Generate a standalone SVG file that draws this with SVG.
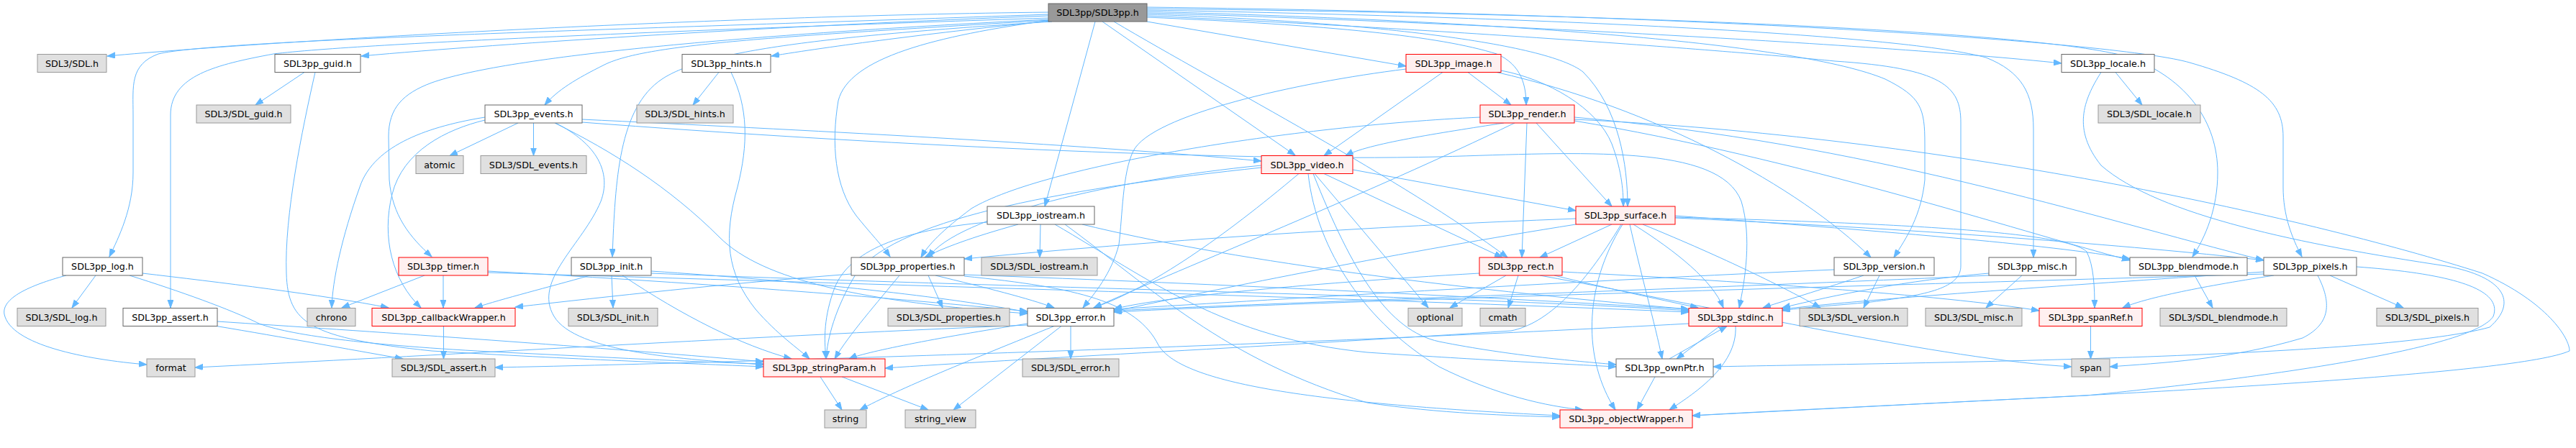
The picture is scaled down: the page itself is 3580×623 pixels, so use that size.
<svg xmlns="http://www.w3.org/2000/svg" width="3580" height="623" viewBox="0 0 3580 623">
<style>
.e{fill:none;stroke:#63b8ff;stroke-width:1;marker-end:url(#a)}
rect{stroke-width:1}
.w rect{fill:#ffffff;stroke:#666666}
.g rect{fill:#e0e0e0;stroke:#999999}
.r rect{fill:#fff0f0;stroke:#ff0000}
.t rect{fill:#999999;stroke:#666666}
text{font-family:"DejaVu Sans","Liberation Sans",sans-serif;font-size:12.7px;fill:#000;text-anchor:middle}
</style>
<defs>
<marker id="a" markerUnits="userSpaceOnUse" markerWidth="12" markerHeight="9" refX="11" refY="4" orient="auto">
<path d="M0,0 L11,4 L0,8 z" fill="#63b8ff" stroke="#63b8ff"/>
</marker>
</defs>
<rect width="3580" height="623" fill="#ffffff"/>
<g id="edges">
<path class="e" d="M1457,17 C1000,22 400,55 149,78"/>
<path class="e" d="M1457,22 C1100,35 700,60 502,78"/>
<path class="e" d="M1457,20 C900,40 300,55 220,75 C180,90 185,120 185,160 L185,240 C185,290 165,330 152,357"/>
<path class="e" d="M1457,25 C1000,40 500,60 380,75 C300,90 237,105 237,160 L237,428"/>
<path class="e" d="M1460,29 C1300,45 1150,65 1072,78"/>
<path class="e" d="M1460,28 C1100,50 900,60 840,90 C800,110 775,125 757,146"/>
<path class="e" d="M1462,30 C1150,50 980,70 920,110 C860,150 855,250 851,357"/>
<path class="e" d="M1457,27 C1000,50 700,80 600,115 C560,130 540,150 540,190 L541,250 C545,300 570,330 600,357"/>
<path class="e" d="M1460,28 C1300,50 1180,80 1165,140 C1155,200 1160,260 1190,300 C1210,325 1225,340 1237,357"/>
<path class="e" d="M1522,30 L1452,287"/>
<path class="e" d="M1532,30 L1800,216"/>
<path class="e" d="M1548,30 C1700,120 1950,250 2095,358"/>
<path class="e" d="M1594,30 L1954,92"/>
<path class="e" d="M1594,24 C1850,35 2000,50 2080,75 C2115,90 2121,120 2121,146"/>
<path class="e" d="M1594,20 C1900,30 2150,60 2200,100 C2250,150 2262,230 2262,287"/>
<path class="e" d="M1594,18 C2000,30 2600,60 2865,88"/>
<path class="e" d="M1594,16 C2100,30 2500,60 2620,110 C2670,135 2675,150 2675,200 L2675,250 C2670,300 2650,330 2632,358"/>
<path class="e" d="M1594,14 C2200,25 2650,50 2760,80 C2810,100 2826,130 2826,180 L2826,358"/>
<path class="e" d="M1594,12 C2300,20 2850,45 2960,80 C3040,110 3082,170 3082,240 C3082,290 3065,330 3047,357"/>
<path class="e" d="M1594,10 C2400,20 2950,60 3043,87 C3140,115 3173,140 3173,190 L3173,260 C3173,300 3185,330 3199,357"/>
<path class="e" d="M1594,22 C2000,40 2400,70 2550,85 C2700,95 2725,120 2725,170 L2725,370 C2725,400 2680,410 2600,420 C2550,425 2500,428 2477,432"/>
<path class="e" d="M423,100.5 L355,146"/>
<path class="e" d="M438,100.5 C420,180 395,300 398,380 C400,450 430,470 600,488 C800,500 950,505 1061,510"/>
<path class="e" d="M999,100.5 L963,146"/>
<path class="e" d="M1016,100.5 C1040,150 1040,200 1025,260 C1005,330 1010,380 1050,430 C1080,465 1110,485 1125,499"/>
<path class="e" d="M133,383 L100,428"/>
<path class="e" d="M92,383 C40,397 2,415 6,437 C15,480 120,500 204,507"/>
<path class="e" d="M198,380 C300,392 450,410 540,428"/>
<path class="e" d="M180,383 C250,405 320,430 360,450 C400,465 500,480 700,490 C850,497 950,503 1061,506"/>
<path class="e" d="M298,453 C400,470 480,485 560,499"/>
<path class="e" d="M302,447 C500,460 800,480 1061,503"/>
<path class="e" d="M720,171 L625,216.5"/>
<path class="e" d="M741.5,171 L741.5,216.5"/>
<path class="e" d="M674,163 C600,175 520,200 500,260 C475,330 462,390 461,428"/>
<path class="e" d="M674,167 C620,180 560,210 545,270 C530,330 545,390 585,428"/>
<path class="e" d="M772,171 C830,200 850,240 835,280 C810,340 740,390 770,440 C800,490 950,500 1061,507"/>
<path class="e" d="M771,171 C850,210 930,260 1000,330 C1060,390 1200,420 1428,436"/>
<path class="e" d="M809,166 C1100,180 1500,200 1753,224"/>
<path class="e" d="M809,170 C1200,200 1700,225 2000,218 C2200,212 2390,200 2420,280 C2435,330 2425,390 2417,428"/>
<path class="e" d="M850,383 L852,428"/>
<path class="e" d="M820,383 C760,400 700,415 660,428"/>
<path class="e" d="M865,383 C950,440 1030,480 1100,499"/>
<path class="e" d="M905,377 C1100,390 1300,410 1428,434"/>
<path class="e" d="M905,380 C1400,400 2000,410 2347,432"/>
<path class="e" d="M590,383 L475,428"/>
<path class="e" d="M616,383 L616,428"/>
<path class="e" d="M678,377 C1000,395 1250,415 1428,433"/>
<path class="e" d="M678,379 C1200,395 1900,415 2347,434"/>
<path class="e" d="M616.5,453.5 L616.5,499"/>
<path class="e" d="M1290,383 L1310,428"/>
<path class="e" d="M1300,383 C1370,400 1430,415 1465,428"/>
<path class="e" d="M1250,383 C1220,420 1180,465 1160,499"/>
<path class="e" d="M1183,381 C1000,395 850,412 716,427"/>
<path class="e" d="M1340,382 C1700,395 2100,415 2347,430"/>
<path class="e" d="M1340,384 C1500,400 1580,420 1610,480 C1640,530 1800,560 2168,578"/>
<path class="e" d="M1446,312 L1445,358"/>
<path class="e" d="M1415,312 C1350,330 1310,345 1285,358"/>
<path class="e" d="M1372,309 C1250,320 1180,350 1160,400 C1145,440 1145,470 1148,499"/>
<path class="e" d="M1466,312 C1600,390 1700,470 1900,490 C2050,500 2150,505 2246,510"/>
<path class="e" d="M1504,312 C1700,360 2000,400 2347,430"/>
<path class="e" d="M1480,312 C1600,400 1700,500 1900,560 C2000,575 2100,578 2168,580"/>
<path class="e" d="M1880,236 L2190,293"/>
<path class="e" d="M1840,241.5 L2088,358"/>
<path class="e" d="M1827,241.5 L1985,428"/>
<path class="e" d="M1818,241.5 C1830,350 1900,450 2000,510 C2080,550 2150,565 2200,570"/>
<path class="e" d="M1825,241.5 C1880,380 1930,460 2000,475 C2100,495 2200,503 2246,507"/>
<path class="e" d="M1805,241.5 C1700,330 1600,400 1520,428"/>
<path class="e" d="M1753,230 C1550,250 1330,300 1290,358"/>
<path class="e" d="M1753,233 C1500,260 1250,300 1190,380 C1160,430 1150,470 1148,499"/>
<path class="e" d="M2040,100.5 L2100,146"/>
<path class="e" d="M2005,100.5 L1840,216.5"/>
<path class="e" d="M2086,98 C2150,110 2220,150 2240,200 C2255,240 2256,270 2256,287"/>
<path class="e" d="M1954,96 C1800,115 1600,160 1575,210 C1560,240 1560,300 1555,340 C1545,380 1520,410 1505,428"/>
<path class="e" d="M2080,100.5 C2300,150 2500,260 2600,358"/>
<path class="e" d="M2090,171 C2000,185 1900,200 1870,216.5"/>
<path class="e" d="M2122,171 L2115,358"/>
<path class="e" d="M2135,171 L2240,287"/>
<path class="e" d="M2057,163 C1800,175 1450,230 1350,290 C1310,320 1290,340 1280,358"/>
<path class="e" d="M2105,171 C1900,270 1650,370 1520,428"/>
<path class="e" d="M2188,163 C2600,200 2900,300 3146,362"/>
<path class="e" d="M2188,168 C2500,220 2800,320 2960,362"/>
<path class="e" d="M2188,166 C2700,190 3200,300 3450,380 C3540,420 3571,470 3571,488 C3500,520 3000,545 2700,560 C2500,570 2400,575 2352,578"/>
<path class="e" d="M3160,383 C3050,400 2980,415 2950,428"/>
<path class="e" d="M3238,383 L3340,428"/>
<path class="e" d="M3221,383 C3240,420 3240,450 3200,470 C3100,500 3000,505 2932,510"/>
<path class="e" d="M3275,371 C3400,380 3480,400 3465,440 C3440,480 3200,520 2900,550 C2600,565 2450,573 2352,578"/>
<path class="e" d="M3146,378 C2900,395 2600,415 2477,430"/>
<path class="e" d="M3146,381 C2500,400 1800,420 1548,434"/>
<path class="e" d="M3050,383 L3075,428"/>
<path class="e" d="M2940,100.5 L2977,146"/>
<path class="e" d="M2920,100.5 C2895,140 2880,180 2920,230 C3000,300 3200,340 3400,370 C3480,385 3500,420 3460,455 C3300,500 2600,505 2381,510"/>
<path class="e" d="M2810,383 L2760,428"/>
<path class="e" d="M2764,380 C2650,390 2550,410 2477,428"/>
<path class="e" d="M2764,383 C2400,400 1800,420 1548,432"/>
<path class="e" d="M2590,383 C2540,400 2490,415 2450,428"/>
<path class="e" d="M2612,383 L2590,428"/>
<path class="e" d="M2549,375 C2200,390 1800,415 1548,430"/>
<path class="e" d="M2905.5,453.5 L2905.5,499"/>
<path class="e" d="M2093,383 L2015,428"/>
<path class="e" d="M2110,383 L2096,428"/>
<path class="e" d="M2160,383 C2230,400 2300,415 2360,428"/>
<path class="e" d="M2056,380 C1800,395 1600,415 1548,430"/>
<path class="e" d="M2140,383 C2400,430 2700,500 2879,510"/>
<path class="e" d="M2171,378 C2400,390 2700,410 2834,432"/>
<path class="e" d="M2240,312 L2140,358"/>
<path class="e" d="M2190,304 C1900,315 1600,335 1340,360"/>
<path class="e" d="M2190,312 C1950,350 1700,400 1548,433"/>
<path class="e" d="M2270,312 C2330,350 2380,390 2395,428"/>
<path class="e" d="M2265,312 C2280,380 2300,450 2310,499"/>
<path class="e" d="M2255,312 C2200,400 2200,500 2245,570"/>
<path class="e" d="M2328,300 C2600,320 2850,340 2960,360"/>
<path class="e" d="M2328,303 C2700,320 3000,345 3146,362"/>
<path class="e" d="M2328,302 C2600,310 2870,320 2900,350 C2910,370 2911,400 2911,428"/>
<path class="e" d="M2283,312 C2400,360 2480,400 2530,428"/>
<path class="e" d="M2253,312 C2200,400 2150,450 2100,460 C1800,480 1400,500 1230,512"/>
<path class="e" d="M2390,453.5 L2330,499"/>
<path class="e" d="M2320,499 L2400,453.5"/>
<path class="e" d="M2412,453.5 C2415,510 2350,550 2320,570"/>
<path class="e" d="M2300,524 L2275,570"/>
<path class="e" d="M1488,453.5 L1488,499"/>
<path class="e" d="M1465,453.5 C1350,500 1250,540 1195,570"/>
<path class="e" d="M1475,453.5 L1325,570"/>
<path class="e" d="M1428,450 C1300,470 1200,490 1180,499"/>
<path class="e" d="M1428,452 C1000,470 600,495 271,511"/>
<path class="e" d="M1140,524 L1170,570"/>
<path class="e" d="M1170,524 L1290,570"/>
<path class="e" d="M2347,450 C1800,480 1000,505 688,511"/>
</g>
<g id="n_sdl3pp" class="t"><rect x="1457" y="5" width="137" height="25"/><text x="1525.5" y="22">SDL3pp/SDL3pp.h</text></g>
<g id="n_sdl_h" class="g"><rect x="52" y="75.5" width="96" height="25"/><text x="100" y="92.5">SDL3/SDL.h</text></g>
<g id="n_guid" class="w"><rect x="382" y="75.5" width="119" height="25"/><text x="441.5" y="92.5">SDL3pp_guid.h</text></g>
<g id="n_hints" class="w"><rect x="948" y="75.5" width="123" height="25"/><text x="1009.5" y="92.5">SDL3pp_hints.h</text></g>
<g id="n_image" class="r"><rect x="1954" y="75.5" width="132" height="25"/><text x="2020" y="92.5">SDL3pp_image.h</text></g>
<g id="n_locale" class="w"><rect x="2865" y="75.5" width="129" height="25"/><text x="2929.5" y="92.5">SDL3pp_locale.h</text></g>
<g id="n_sdl_guid" class="g"><rect x="273" y="146" width="131" height="25"/><text x="338.5" y="163">SDL3/SDL_guid.h</text></g>
<g id="n_events" class="w"><rect x="674" y="146" width="135" height="25"/><text x="741.5" y="163">SDL3pp_events.h</text></g>
<g id="n_sdl_hints" class="g"><rect x="885" y="146" width="134" height="25"/><text x="952" y="163">SDL3/SDL_hints.h</text></g>
<g id="n_render" class="r"><rect x="2057" y="146" width="131" height="25"/><text x="2122.5" y="163">SDL3pp_render.h</text></g>
<g id="n_sdl_locale" class="g"><rect x="2916" y="146" width="142" height="25"/><text x="2987" y="163">SDL3/SDL_locale.h</text></g>
<g id="n_atomic" class="g"><rect x="578" y="216.5" width="66" height="25"/><text x="611" y="233.5">atomic</text></g>
<g id="n_sdl_events" class="g"><rect x="668" y="216.5" width="147" height="25"/><text x="741.5" y="233.5">SDL3/SDL_events.h</text></g>
<g id="n_video" class="r"><rect x="1753" y="216.5" width="127" height="25"/><text x="1816.5" y="233.5">SDL3pp_video.h</text></g>
<g id="n_iostream" class="w"><rect x="1372" y="287" width="149" height="25"/><text x="1446.5" y="304">SDL3pp_iostream.h</text></g>
<g id="n_surface" class="r"><rect x="2190" y="287" width="138" height="25"/><text x="2259" y="304">SDL3pp_surface.h</text></g>
<g id="n_log" class="w"><rect x="87" y="358" width="111" height="25"/><text x="142.5" y="375">SDL3pp_log.h</text></g>
<g id="n_timer" class="r"><rect x="554" y="358" width="124" height="25"/><text x="616" y="375">SDL3pp_timer.h</text></g>
<g id="n_init" class="w"><rect x="794" y="358" width="111" height="25"/><text x="849.5" y="375">SDL3pp_init.h</text></g>
<g id="n_properties" class="w"><rect x="1183" y="358" width="157" height="25"/><text x="1261.5" y="375">SDL3pp_properties.h</text></g>
<g id="n_sdl_iostream" class="g"><rect x="1364" y="358" width="161" height="25"/><text x="1444.5" y="375">SDL3/SDL_iostream.h</text></g>
<g id="n_rect" class="r"><rect x="2056" y="358" width="115" height="25"/><text x="2113.5" y="375">SDL3pp_rect.h</text></g>
<g id="n_version" class="w"><rect x="2549" y="358" width="139" height="25"/><text x="2618.5" y="375">SDL3pp_version.h</text></g>
<g id="n_misc" class="w"><rect x="2764" y="358" width="121" height="25"/><text x="2824.5" y="375">SDL3pp_misc.h</text></g>
<g id="n_blendmode" class="w"><rect x="2960" y="358" width="163" height="25"/><text x="3041.5" y="375">SDL3pp_blendmode.h</text></g>
<g id="n_pixels" class="w"><rect x="3146" y="358" width="129" height="25"/><text x="3210.5" y="375">SDL3pp_pixels.h</text></g>
<g id="n_sdl_log" class="g"><rect x="24" y="428.5" width="123" height="25"/><text x="85.5" y="445.5">SDL3/SDL_log.h</text></g>
<g id="n_assert" class="w"><rect x="171" y="428.5" width="131" height="25"/><text x="236.5" y="445.5">SDL3pp_assert.h</text></g>
<g id="n_chrono" class="g"><rect x="427" y="428.5" width="67" height="25"/><text x="460.5" y="445.5">chrono</text></g>
<g id="n_callback" class="r"><rect x="517" y="428.5" width="199" height="25"/><text x="616.5" y="445.5">SDL3pp_callbackWrapper.h</text></g>
<g id="n_sdl_init" class="g"><rect x="790" y="428.5" width="124" height="25"/><text x="852" y="445.5">SDL3/SDL_init.h</text></g>
<g id="n_sdl_properties" class="g"><rect x="1234" y="428.5" width="169" height="25"/><text x="1318.5" y="445.5">SDL3/SDL_properties.h</text></g>
<g id="n_error" class="w"><rect x="1428" y="428.5" width="120" height="25"/><text x="1488" y="445.5">SDL3pp_error.h</text></g>
<g id="n_optional" class="g"><rect x="1957" y="428.5" width="75" height="25"/><text x="1994.5" y="445.5">optional</text></g>
<g id="n_cmath" class="g"><rect x="2057" y="428.5" width="63" height="25"/><text x="2088.5" y="445.5">cmath</text></g>
<g id="n_stdinc" class="r"><rect x="2347" y="428.5" width="130" height="25"/><text x="2412" y="445.5">SDL3pp_stdinc.h</text></g>
<g id="n_sdl_version" class="g"><rect x="2501" y="428.5" width="150" height="25"/><text x="2576" y="445.5">SDL3/SDL_version.h</text></g>
<g id="n_sdl_misc" class="g"><rect x="2676" y="428.5" width="134" height="25"/><text x="2743" y="445.5">SDL3/SDL_misc.h</text></g>
<g id="n_spanref" class="r"><rect x="2834" y="428.5" width="143" height="25"/><text x="2905.5" y="445.5">SDL3pp_spanRef.h</text></g>
<g id="n_sdl_blendmode" class="g"><rect x="3002" y="428.5" width="176" height="25"/><text x="3090" y="445.5">SDL3/SDL_blendmode.h</text></g>
<g id="n_sdl_pixels" class="g"><rect x="3303" y="428.5" width="141" height="25"/><text x="3373.5" y="445.5">SDL3/SDL_pixels.h</text></g>
<g id="n_format" class="g"><rect x="204" y="499" width="67" height="25"/><text x="237.5" y="516">format</text></g>
<g id="n_sdl_assert" class="g"><rect x="545" y="499" width="143" height="25"/><text x="616.5" y="516">SDL3/SDL_assert.h</text></g>
<g id="n_stringparam" class="r"><rect x="1061" y="499" width="169" height="25"/><text x="1145.5" y="516">SDL3pp_stringParam.h</text></g>
<g id="n_sdl_error" class="g"><rect x="1421" y="499" width="134" height="25"/><text x="1488" y="516">SDL3/SDL_error.h</text></g>
<g id="n_ownptr" class="w"><rect x="2246" y="499" width="135" height="25"/><text x="2313.5" y="516">SDL3pp_ownPtr.h</text></g>
<g id="n_span" class="g"><rect x="2879" y="499" width="53" height="25"/><text x="2905.5" y="516">span</text></g>
<g id="n_string" class="g"><rect x="1146" y="570" width="58" height="25"/><text x="1175" y="587">string</text></g>
<g id="n_string_view" class="g"><rect x="1258" y="570" width="98" height="25"/><text x="1307" y="587">string_view</text></g>
<g id="n_objectwrapper" class="r"><rect x="2168" y="570" width="184" height="25"/><text x="2260" y="587">SDL3pp_objectWrapper.h</text></g>
</svg>
